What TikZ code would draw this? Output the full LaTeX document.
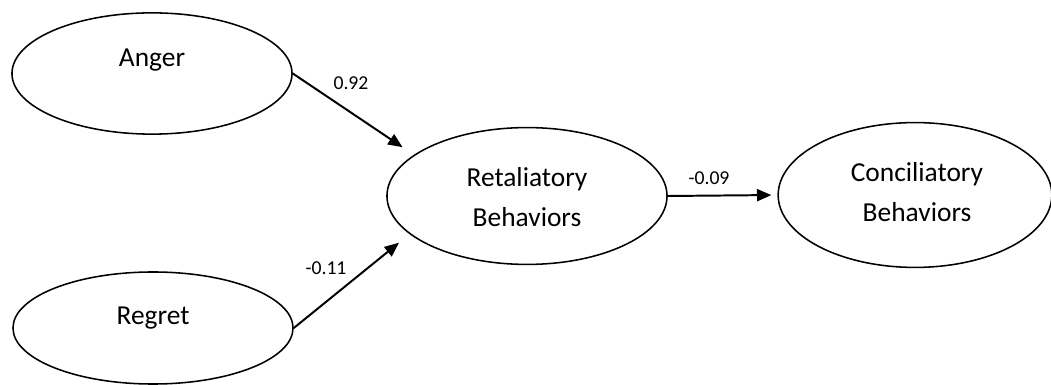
\documentclass[tikz,border=0pt]{standalone}
\usepackage{fontspec}
\setmainfont{Carlito}
\usepackage{tikz}
\usetikzlibrary{arrows.meta,shapes}
\usetikzlibrary{positioning}
\tikzset{
    construct/.style={draw=black, ellipse, line width=1.1pt, inner sep=0pt},
    effect/.style={draw=black, line width=1.4pt,
        -{Triangle[length=0.36cm, width=0.3cm]}},
    vartext/.style={font=\fontsize{19.5}{28.5}\selectfont, align=center},
    coef/.style={font=\fontsize{14}{17}\selectfont},
}
\begin{document}
\begin{tikzpicture}[x=0.025cm, y=-0.025cm]
	\useasboundingbox (0,0) rectangle (1051,385);
	% constructs
	\node[construct, minimum width=7cm, minimum height=3.03cm] (anger) at (152,73.5) {};
	\node[construct, minimum width=7cm, minimum height=2.8cm] (regret) at (153,328) {};
	\node[construct, minimum width=7cm, minimum height=3.42cm] (retal) at (527,196) {};
	\node[construct, minimum width=6.84cm, minimum height=3.62cm] (concil) at (915,195) {};
	\node[vartext] at (152,60) {Anger};
	\node[vartext] at (153,318) {Regret};
	\node[vartext] at (527,197) {Retaliatory\\Behaviors};
	\node[vartext] at (917,192) {Conciliatory\\Behaviors};
	% paths
	\draw[effect, shorten >=0.34cm] (anger.east) -- (retal.160);
	\draw[effect, shorten >=0.34cm] (regret.east) -- (retal.198);
	\draw[effect, shorten >=0.15cm] (retal.east) -- (concil.west);
	\node[coef] at (351,83) {0.92};
	\node[coef] at (326,268) {-0.11};
	\node[coef] at (709,178) {-0.09};
\end{tikzpicture}
\end{document}
